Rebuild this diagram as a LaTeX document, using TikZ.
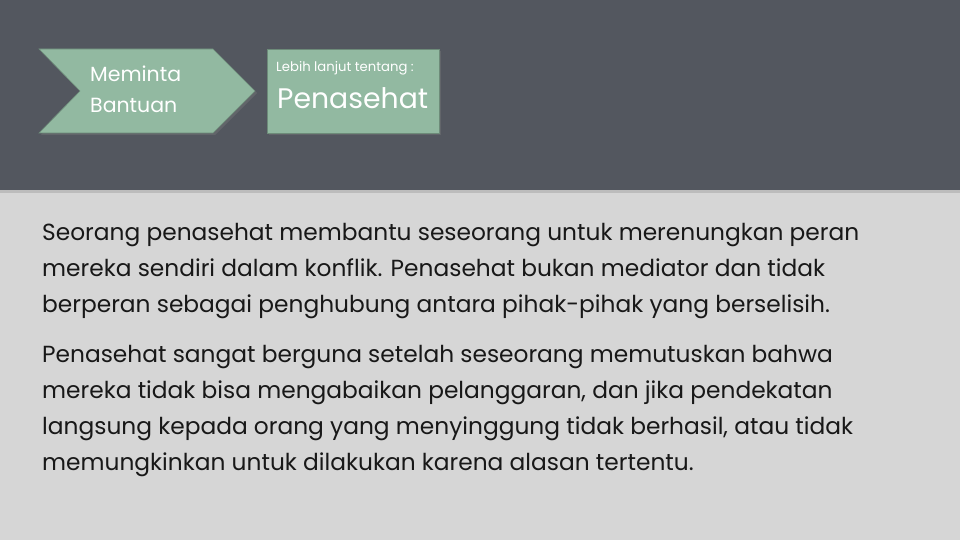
\documentclass[tikz,border=0pt]{standalone}
\usepackage{fontspec}
\setmainfont{Poppins}
\usetikzlibrary{shadows}
\definecolor{headgray}{RGB}{83,87,95}
\definecolor{pagegray}{RGB}{214,214,214}
\definecolor{sage}{RGB}{146,185,161}
\definecolor{inkgray}{RGB}{24,24,24}
\begin{document}
\begin{tikzpicture}[x=1pt,y=-1pt,%
% common options for the green shapes:
tile/.style = {fill=sage, draw=sage!75!black, line width=0.6pt,
            drop shadow={shadow xshift=2pt, shadow yshift=-2pt, opacity=0.35}},
% common options for the white labels:
whitetext/.style = {text=white, anchor=base west, inner sep=0},
% common options for the paragraphs (anchored at the last line):
bodytext/.style = {text=inkgray, anchor=base west, align=left, inner sep=0,
            font=\fontsize{23.3}{36}\selectfont}]
\fill[pagegray] (0,0) rectangle (960,540);
\useasboundingbox (0,0) rectangle (960,540);
\fill[headgray, drop shadow={shadow xshift=0pt, shadow yshift=-3pt, opacity=0.3}] (0,0) rectangle (960,190);
\path[tile] (39,49) -- (213,49) -- (255,91) -- (213,133) -- (39,133) -- (80,91) -- cycle;
\node[tile, rectangle, minimum width=172, minimum height=84, anchor=north west] (box) at (267,49) {};
\node[whitetext, font=\fontsize{20.5}{28}\selectfont] (ask1) at (90,82) {Meminta};
\node[whitetext, font=\fontsize{20.5}{28}\selectfont] (ask2) at (90,113) {Bantuan};
\node[whitetext, font=\fontsize{13.2}{15}\selectfont] (more) at (276,72) {Lebih lanjut tentang :};
\node[whitetext, font=\fontsize{28.3}{32}\selectfont] (topic) at (277,109) {Penasehat};
\node[bodytext] (para1) at (42,312) {Seorang penasehat membantu seseorang untuk merenungkan peran\\
mereka sendiri dalam konflik. Penasehat bukan mediator dan tidak\\
berperan sebagai penghubung antara pihak-pihak yang berselisih.};
\node[bodytext] (para2) at (42,470) {Penasehat sangat berguna setelah seseorang memutuskan bahwa\\
mereka tidak bisa mengabaikan pelanggaran, dan jika pendekatan\\
langsung kepada orang yang menyinggung tidak berhasil, atau tidak\\
memungkinkan untuk dilakukan karena alasan tertentu.};
\end{tikzpicture}
\end{document}
